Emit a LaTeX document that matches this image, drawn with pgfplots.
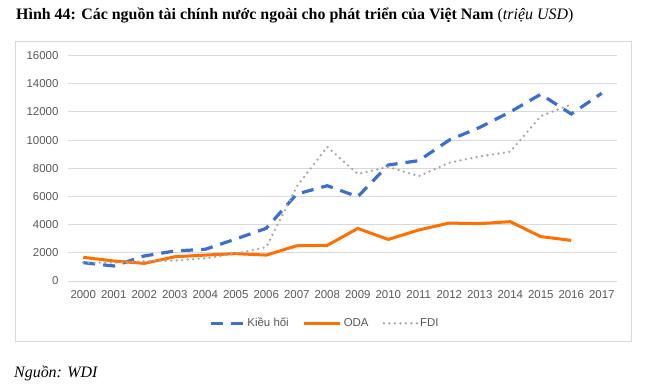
\documentclass[border=0pt]{standalone}
\usepackage{fontspec}
\setmainfont{Liberation Serif}
\newfontfamily\arialfont{Liberation Sans}
\usepackage{pgfplots}
\pgfplotsset{compat=1.18}
\definecolor{kblue}{RGB}{59,111,211}
\definecolor{korange}{RGB}{255,112,0}
\definecolor{kgray}{RGB}{166,166,166}
\definecolor{kgrid}{RGB}{217,217,217}
\definecolor{ktext}{RGB}{89,89,89}
\pgfplotsset{
  leg33/.style={legend image code/.code={\draw[##1] (0bp,0bp) -- (33bp,0bp);}},
  leg36/.style={legend image code/.code={\draw[##1] (0bp,0bp) -- (36bp,0bp);}},
}
\begin{document}
\begin{tikzpicture}
\useasboundingbox (0bp,0bp) rectangle (653bp,-392bp);
\node[anchor=base west, inner sep=0pt, font=\fontsize{16}{18}\selectfont] at (16bp,-19bp) {\textbf{Hình 44: Các nguồn tài chính nước ngoài cho phát triển của Việt Nam} (\textit{triệu USD})};
\draw[kgrid, line width=1bp] (15bp,-41bp) rectangle (631bp,-341bp);
\node[anchor=base west, inner sep=0pt, font=\fontsize{16}{18}\selectfont\itshape] at (14bp,-377bp) {Nguồn: WDI};
\begin{axis}[
  at={(68bp,-281bp)}, anchor=south west,
  scale only axis, width=549bp, height=225.5bp,
  xmin=1999.5, xmax=2017.5, ymin=0, ymax=16000,
  xtick={2000,2001,...,2017}, ytick={0,2000,...,16000},
  scaled y ticks=false,
  /pgf/number format/1000 sep={},
  /pgf/number format/fixed,
  /pgf/number format/assume math mode=true,
  ymajorgrids, grid style={kgrid, line width=1bp},
  axis line style={draw=none}, major tick length=0pt,
  tick label style={font=\arialfont\fontsize{11.5}{13}\selectfont, text=ktext},
  xticklabel style={yshift=-6bp},
  yticklabel style={xshift=-6bp},
  legend style={at={(0.468,-0.1875)}, anchor=center, draw=none, fill=none,
    font=\arialfont\fontsize{11.5}{13}\selectfont, text=ktext,
    /tikz/every even column/.append style={column sep=12bp}},
  legend columns=3, legend cell align=left,
]
\addplot[kblue, line width=3.2bp, dash pattern=on 12bp off 8bp, leg33]
  coordinates {(2000,1300)(2001,1065)(2002,1775)(2003,2130)(2004,2250)(2005,2980)(2006,3740)(2007,6170)(2008,6760)(2009,5980)(2010,8230)(2011,8540)(2012,10000)(2013,10900)(2014,12000)(2015,13250)(2016,11850)(2017,13320)};
\addlegendentry{Kiều hối}
\addplot[korange, line width=3bp, leg36]
  coordinates {(2000,1680)(2001,1420)(2002,1250)(2003,1720)(2004,1840)(2005,1940)(2006,1840)(2007,2500)(2008,2530)(2009,3730)(2010,2950)(2011,3620)(2012,4110)(2013,4070)(2014,4210)(2015,3150)(2016,2880)};
\addlegendentry{ODA}
\addplot[kgray, line width=2.6bp, line cap=round, dash pattern=on 0bp off 5.5bp, leg33]
  coordinates {(2000,1300)(2001,1300)(2002,1400)(2003,1450)(2004,1610)(2005,1950)(2006,2400)(2007,6700)(2008,9520)(2009,7590)(2010,8100)(2011,7440)(2012,8390)(2013,8840)(2014,9170)(2015,11700)(2016,12530)};
\addlegendentry{FDI}
\end{axis}
\end{tikzpicture}
\end{document}
